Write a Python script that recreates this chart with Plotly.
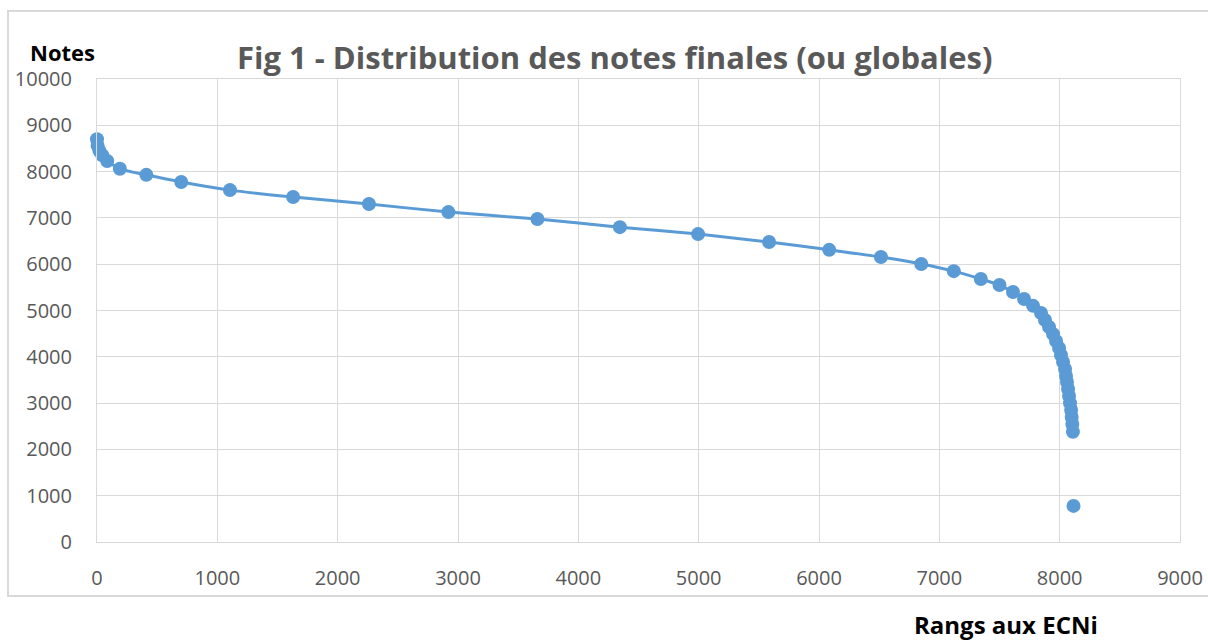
import plotly.graph_objects as go

# ---- data ----
ranks = [0, 5, 20, 45, 85, 190, 410, 700, 1105, 1630, 2260, 2920, 3660, 4345, 4995,
         5585, 6085, 6515, 6850, 7120, 7345, 7500, 7612, 7704, 7779, 7845, 7878, 7912,
         7945, 7970, 7995, 8011, 8028, 8045, 8053, 8061, 8070, 8078, 8086, 8095, 8100,
         8105, 8110]
notes = [8700, 8560, 8450, 8350, 8230, 8060, 7930, 7775, 7600, 7450, 7300, 7125, 6975,
         6800, 6650, 6480, 6310, 6155, 6005, 5850, 5680, 5550, 5400, 5250, 5100, 4945,
         4795, 4645, 4490, 4340, 4190, 4040, 3890, 3735, 3585, 3455, 3305, 3155, 3000,
         2850, 2700, 2550, 2380]
outlier_rank = [8115]
outlier_note = [780]

x_ticks = [0, 1000, 2000, 3000, 4000, 5000, 6000, 7000, 8000, 9000]
y_ticks = [0, 1000, 2000, 3000, 4000, 5000, 6000, 7000, 8000, 9000, 10000]
y_tick_labels = ["0", "1000", "2000", "3000", "4000", "5000", "6000", "7000", "8000",
                 "9000", "10000"]

title_text = "Fig 1 - Distribution des notes finales (ou globales)"
y_title = "Notes"
x_title = "Rangs aux ECNi"

# ---- layout geometry (pixels) ----
W, H = 1208, 642
L, R, T, B = 97, 1180, 79, 542
pw, ph = R - L, B - T


def px(x):
    return (x - L) / pw


def py(y):
    return (B - y) / ph


blue = "#5B9BD5"
grid = "#D9D9D9"
tick_col = "#595959"
font_fam = "Open Sans, Liberation Sans, sans-serif"

fig = go.Figure()
fig.add_trace(go.Scatter(
    x=ranks, y=notes, mode="lines+markers",
    line=dict(color=blue, width=3, shape="spline", smoothing=0.6),
    marker=dict(color=blue, size=14),
    cliponaxis=False, showlegend=False,
))
fig.add_trace(go.Scatter(
    x=outlier_rank, y=outlier_note, mode="markers",
    marker=dict(color=blue, size=14),
    cliponaxis=False, showlegend=False,
))

fig.update_layout(
    width=W, height=H, autosize=False,
    margin=dict(l=L, r=W - R, t=T, b=H - B, autoexpand=False),
    paper_bgcolor="white", plot_bgcolor="white",
    font=dict(family=font_fam, color=tick_col),
    xaxis=dict(range=[0, 9000], tickvals=x_ticks, showgrid=True, gridcolor=grid,
               gridwidth=1, zeroline=False, showline=True, linecolor=grid, mirror=True,
               linewidth=1, tickfont=dict(size=20, color=tick_col), automargin=False,
               ticks="", ticklabelstandoff=18, ticklabeloverflow="allow"),
    yaxis=dict(range=[0, 10000], tickvals=y_ticks, ticktext=y_tick_labels,
               showgrid=True, gridcolor=grid, automargin=False,
               gridwidth=1, zeroline=False, showline=True, linecolor=grid, mirror=True,
               linewidth=1, tickfont=dict(size=20, color=tick_col),
               ticks="", ticklabelstandoff=20),
    shapes=[dict(type="rect", xref="paper", yref="paper",
                 x0=px(8), x1=px(1300), y0=py(596), y1=py(11),
                 line=dict(color=grid, width=2), fillcolor="rgba(0,0,0,0)",
                 layer="below")],
    annotations=[
        dict(text="<b>" + title_text + "</b>", xref="paper", yref="paper",
             x=px(615), y=py(57), xanchor="center", yanchor="middle",
             showarrow=False, font=dict(size=31, color=tick_col, family=font_fam)),
        dict(text="<b>" + y_title + "</b>", xref="paper", yref="paper",
             x=px(62), y=py(52), xanchor="center", yanchor="middle",
             showarrow=False, font=dict(size=22, color="black", family=font_fam)),
        dict(text="<b>" + x_title + "</b>", xref="paper", yref="paper",
             x=px(1006), y=py(624), xanchor="center", yanchor="middle",
             showarrow=False, font=dict(size=24, color="black", family=font_fam)),
    ],
)

fig.write_html(
    "out.html",
    config={"displayModeBar": False, "responsive": False},
    post_script="document.body.style.margin='0';document.body.style.overflow='hidden';",
)
